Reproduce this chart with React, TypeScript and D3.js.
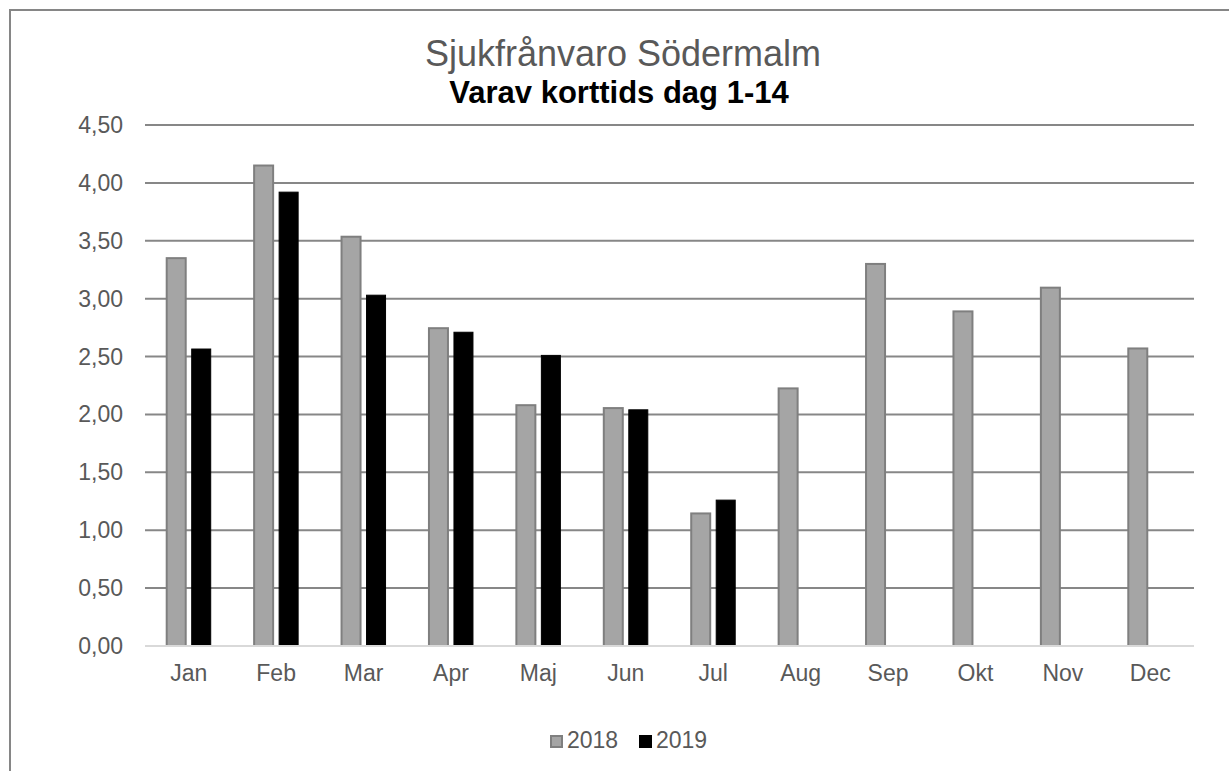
import * as d3 from "d3";
import React, { useEffect, useRef } from "react";

const months = ["Jan", "Feb", "Mar", "Apr", "Maj", "Jun", "Jul", "Aug", "Sep", "Okt", "Nov", "Dec"];
const values2018 = [3.35, 4.15, 3.535, 2.745, 2.08, 2.055, 1.145, 2.225, 3.3, 2.89, 3.095, 2.57];
const values2019 = [2.565, 3.92, 3.03, 2.71, 2.51, 2.04, 1.26, null, null, null, null, null];
const yTicks = [0, 0.5, 1, 1.5, 2, 2.5, 3, 3.5, 4, 4.5];
const seriesNames = ["2018", "2019"];

const W = 1229;
const H = 771;
const font = "'Liberation Sans', Arial, sans-serif";

export default function App() {
  const ref = useRef<SVGSVGElement>(null);

  useEffect(() => {
    const svg = d3.select(ref.current);
    svg.selectAll("*").remove();

    // frame around the chart (runs off the right/bottom edge)
    svg.append("rect")
      .attr("x", 10).attr("y", 10)
      .attr("width", 1300).attr("height", 800)
      .attr("fill", "white")
      .attr("stroke", "#868686")
      .attr("stroke-width", 2);

    const x = d3.scaleBand().domain(months).range([145, 1194]);
    const y = d3.scaleLinear().domain([0, 4.5]).range([646, 125]);

    // gridlines
    svg.append("g")
      .selectAll("line")
      .data(yTicks.filter(t => t > 0))
      .enter()
      .append("line")
      .attr("x1", 145).attr("x2", 1194)
      .attr("y1", d => y(d)).attr("y2", d => y(d))
      .attr("stroke", "#878787")
      .attr("stroke-width", 2);

    // y tick labels
    const fmt = (d: number) => d3.format(".2f")(d).replace(".", ",");
    svg.append("g")
      .selectAll("text")
      .data(yTicks)
      .enter()
      .append("text")
      .attr("x", 123)
      .attr("y", d => y(d) + 8)
      .attr("text-anchor", "end")
      .attr("font-family", font)
      .attr("font-size", 23)
      .attr("fill", "#595959")
      .text(d => fmt(d));

    const barW = 19;
    const off = 12.5;

    // 2018 bars
    svg.append("g")
      .selectAll("rect")
      .data(values2018)
      .enter()
      .append("rect")
      .attr("x", (d, i) => x(months[i])! + x.bandwidth() / 2 - off - barW / 2)
      .attr("y", d => y(d))
      .attr("width", barW)
      .attr("height", d => y(0) - y(d))
      .attr("fill", "#a5a5a5")
      .attr("stroke", "#7f7f7f")
      .attr("stroke-width", 2);

    // 2019 bars
    svg.append("g")
      .selectAll("rect")
      .data(values2019.map((v, i) => ({ v, i })).filter(d => d.v != null))
      .enter()
      .append("rect")
      .attr("x", d => x(months[d.i])! + x.bandwidth() / 2 + off - barW / 2)
      .attr("y", d => y(d.v as number))
      .attr("width", barW)
      .attr("height", d => y(0) - y(d.v as number))
      .attr("fill", "#000")
      .attr("stroke", "#000")
      .attr("stroke-width", 1);

    // baseline
    svg.append("line")
      .attr("x1", 145).attr("x2", 1194)
      .attr("y1", y(0)).attr("y2", y(0))
      .attr("stroke", "#d9d9d9")
      .attr("stroke-width", 2);

    // category labels
    svg.append("g")
      .selectAll("text")
      .data(months)
      .enter()
      .append("text")
      .attr("x", d => x(d)! + x.bandwidth() / 2)
      .attr("y", 681)
      .attr("text-anchor", "middle")
      .attr("font-family", font)
      .attr("font-size", 23)
      .attr("fill", "#595959")
      .text(d => d);

    // titles
    svg.append("text")
      .attr("x", 623).attr("y", 66)
      .attr("text-anchor", "middle")
      .attr("font-family", font)
      .attr("font-size", 36)
      .attr("fill", "#595959")
      .text("Sjukfrånvaro Södermalm");

    svg.append("text")
      .attr("x", 619).attr("y", 103)
      .attr("text-anchor", "middle")
      .attr("font-family", font)
      .attr("font-size", 31)
      .attr("font-weight", "bold")
      .attr("fill", "#000")
      .text("Varav korttids dag 1-14");

    // legend
    const legend = [
      { name: seriesNames[0], x: 550, fill: "#a5a5a5", stroke: "#7f7f7f" },
      { name: seriesNames[1], x: 639, fill: "#000", stroke: "#000" },
    ];
    const lg = svg.append("g");
    legend.forEach(l => {
      lg.append("rect")
        .attr("x", l.x + 1).attr("y", 736)
        .attr("width", 11).attr("height", 11)
        .attr("fill", l.fill)
        .attr("stroke", l.stroke)
        .attr("stroke-width", 2);
      lg.append("text")
        .attr("x", l.x + 17).attr("y", 748)
        .attr("font-family", font)
        .attr("font-size", 23)
        .attr("fill", "#595959")
        .text(l.name);
    });
  }, []);

  return (
    <svg
      ref={ref}
      width={W}
      height={H}
      style={{ position: "absolute", left: 0, top: 0, display: "block", background: "white" }}
    />
  );
}
